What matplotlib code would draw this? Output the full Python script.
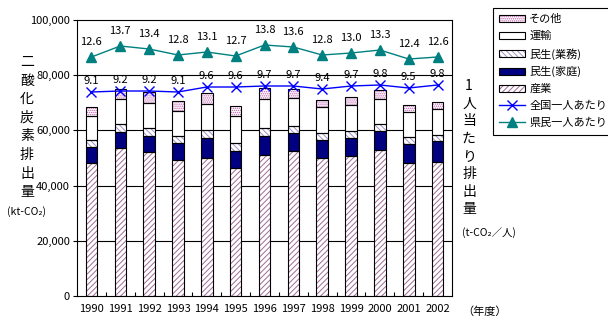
import matplotlib
matplotlib.use("Agg")
import matplotlib.pyplot as plt
import numpy as np
from matplotlib.patches import Patch
from matplotlib.lines import Line2D
from matplotlib.legend_handler import HandlerTuple

plt.rcParams['font.family'] = ['Noto Sans CJK JP', 'DejaVu Sans']
plt.rcParams['hatch.linewidth'] = 0.7

years = ['1990', '1991', '1992', '1993', '1994', '1995', '1996', '1997',
         '1998', '1999', '2000', '2001', '2002']
sangyo = [48100, 53500, 52300, 49200, 50100, 46300, 51000, 52500, 49900, 50600, 52800, 48100, 48400]
katei = [5800, 6100, 5800, 6200, 7100, 6300, 6900, 6600, 6700, 6600, 6900, 7100, 7800]
gyomu = [2500, 2800, 2700, 2600, 2800, 2800, 2900, 2600, 2600, 2500, 2600, 2400, 2300]
unyu = [8900, 8800, 9300, 9200, 9400, 9900, 10400, 9900, 9400, 9500, 8900, 8900, 9400]
sonota = [3300, 3800, 3900, 3500, 4000, 3600, 4000, 3400, 2500, 2900, 3600, 2800, 2400]
zenkoku = [9.1, 9.2, 9.2, 9.1, 9.6, 9.6, 9.7, 9.7, 9.4, 9.7, 9.8, 9.5, 9.8]
kenmin = [12.6, 13.7, 13.4, 12.8, 13.1, 12.7, 13.8, 13.6, 12.8, 13.0, 13.3, 12.4, 12.6]

W, H = 608, 324
fig = plt.figure(figsize=(W / 100, H / 100), dpi=100)
L, R, T, B = 77, 452, 20, 296
ax = fig.add_axes([L / W, 1 - B / H, (R - L) / W, (B - T) / H])

x = np.arange(len(years))
bw = 0.4
segments = [
    ('産業', sangyo, dict(fc='white', hatch='//////', hc='#a06a98')),
    ('民生(家庭)', katei, dict(fc='#000080', hatch=None, hc=None)),
    ('民生(業務)', gyomu, dict(fc='white', hatch='\\\\\\\\\\\\', hc='#a090c8')),
    ('運輸', unyu, dict(fc='white', hatch=None, hc=None)),
    ('その他', sonota, dict(fc='white', hatch='........', hc='#c060b0')),
]
bottom = np.zeros(len(years))
handles = {}
for name, vals, st in segments:
    vals = np.array(vals, dtype=float)
    if st['hatch']:
        ax.bar(x, vals, bw, bottom=bottom, facecolor=st['fc'], edgecolor=st['hc'],
               hatch=st['hatch'], linewidth=0, zorder=2)
        h = (Patch(facecolor=st['fc'], edgecolor=st['hc'], hatch=st['hatch'], linewidth=0),
             Patch(fill=False, edgecolor='black', linewidth=0.8))
    else:
        ax.bar(x, vals, bw, bottom=bottom, facecolor=st['fc'], linewidth=0, zorder=2)
        h = Patch(facecolor=st['fc'], edgecolor='black', linewidth=0.8)
    ax.bar(x, vals, bw, bottom=bottom, fill=False, edgecolor='black', linewidth=0.8, zorder=3)
    handles[name] = h
    bottom += vals

ax.set_xlim(-0.5, len(years) - 0.5)
ax.set_ylim(0, 100000)
ax.set_yticks(np.arange(0, 100001, 20000))
ax.set_yticklabels([f'{v:,}' for v in range(0, 100001, 20000)], fontsize=8)
for yv in [20000, 40000, 60000, 80000]:
    ax.axhline(yv, color='black', linewidth=0.8, zorder=1)
ax.set_xticks(x)
ax.set_xticklabels(years, fontsize=8)
ax.set_xticks(np.arange(0.5, len(years) - 1, 1), minor=True)
ax.tick_params(axis='x', which='major', length=0, pad=6)
ax.tick_params(axis='x', which='minor', length=3, direction='in', width=0.8)
ax.tick_params(axis='y', length=3, direction='out', width=0.8, pad=2)
for s in ax.spines.values():
    s.set_linewidth(0.8)
    s.set_color('black')

ax2 = ax.twinx()
ax2.set_ylim(-11.3, 16.3)
ax2.set_yticks([])
for s in ax2.spines.values():
    s.set_visible(False)
ln1, = ax2.plot(x, zenkoku, color='#0000ff', marker='x', markersize=7, linewidth=1,
                markeredgewidth=1, zorder=5)
ln2, = ax2.plot(x, kenmin, color='#008080', marker='^', markersize=7, linewidth=1,
                zorder=5)
for xi, v in zip(x, zenkoku):
    ax2.annotate(f'{v:.1f}', (xi, v), xytext=(0, 8), textcoords='offset points',
                 ha='center', va='center', fontsize=8)
for xi, v in zip(x, kenmin):
    ax2.annotate(f'{v:.1f}', (xi, v), xytext=(0, 11), textcoords='offset points',
                 ha='center', va='center', fontsize=8)

leg_labels = ['その他', '運輸', '民生(業務)', '民生(家庭)', '産業', '全国一人あたり', '県民一人あたり']
leg_handles = [handles['その他'], handles['運輸'], handles['民生(業務)'],
               handles['民生(家庭)'], handles['産業'], ln1, ln2]
leg = fig.legend(leg_handles, leg_labels, loc='upper left',
                 bbox_to_anchor=(487 / W, 1 - 2 / H), fontsize=8, frameon=True,
                 fancybox=False, edgecolor='black', framealpha=1,
                 handlelength=2.3, handleheight=0.6, labelspacing=0.6,
                 handletextpad=0.4, borderpad=0.6,
                 handler_map={tuple: HandlerTuple(ndivide=1, pad=0)})
leg.get_frame().set_linewidth(0.8)

def ftext(px, py, s, **kw):
    fig.text(px / W, 1 - py / H, s, **kw)

for i, ch in enumerate('二酸化炭素排出量'):
    ftext(27, 62 + i * 18.6, ch, ha='center', va='center', fontsize=10)
ftext(27, 212, '(kt-CO₂)', ha='center', va='center', fontsize=7.5)
for i, ch in enumerate('1人当たり排出量'):
    ftext(469, 86 + i * 17.6, ch, ha='center', va='center', fontsize=10)
ftext(462, 233, '(t-CO₂／人)', ha='left', va='center', fontsize=7.5)
ftext(462, 312, '（年度）', ha='left', va='center', fontsize=8)

fig.savefig('out.png', dpi=100)
